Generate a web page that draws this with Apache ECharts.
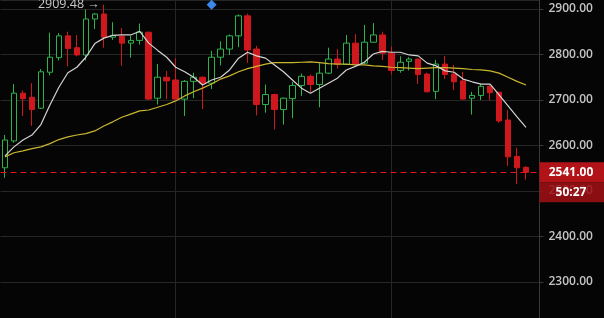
<!DOCTYPE html>
<html>
<head>
<meta charset="utf-8">
<script src="https://cdn.jsdelivr.net/npm/echarts@6/dist/echarts.min.js"></script>
<style>
html,body{margin:0;padding:0;background:#050505;}
#c{width:604px;height:318px;}
</style>
</head>
<body>
<div id="c"></div>
<script>
// ---- data ----
const openV  = [2551,2610,2715,2706,2682,2761,2793,2841,2815,2799,2878,2889,2838,2840,2825,2831,2849,2704,2750,2744,2702,2741,2750,2737,2794,2812,2841,2885,2812,2690,2712,2679,2703,2732,2752,2734,2759,2790,2778,2825,2781,2827,2843,2803,2765,2785,2790,2757,2719,2779,2757,2742,2704,2710,2730,2717,2656,2576,2552];
const closeV = [2612,2715,2703,2679,2762,2794,2841,2813,2799,2878,2889,2838,2842,2825,2831,2849,2702,2750,2742,2702,2741,2750,2737,2794,2812,2841,2885,2810,2690,2712,2679,2704,2732,2752,2734,2759,2790,2779,2825,2779,2827,2843,2803,2765,2783,2790,2756,2718,2779,2756,2740,2702,2710,2730,2716,2654,2575,2551,2541];
const lowV   = [2529,2606,2665,2643,2680,2754,2787,2774,2796,2787,2856,2815,2832,2775,2793,2822,2700,2690,2702,2701,2665,2704,2680,2724,2776,2799,2816,2782,2666,2672,2635,2646,2660,2709,2717,2684,2757,2769,2777,2776,2779,2826,2788,2756,2760,2765,2735,2717,2702,2746,2722,2701,2668,2700,2699,2650,2555,2515,2525];
const highV  = [2623,2735,2721,2737,2768,2848,2847,2850,2843,2899,2891,2909.48,2871,2858,2841,2868,2850,2779,2764,2792,2744,2760,2752,2808,2829,2844,2888,2890,2819,2734,2714,2705,2740,2758,2756,2781,2815,2812,2843,2845,2865,2869,2850,2818,2796,2794,2791,2760,2788,2797,2777,2762,2718,2735,2733,2718,2678,2595,2554.5];
const maFast = [2577,2597,2612,2623,2646,2689,2728,2760,2772,2794,2824,2836,2842,2843,2843,2851,2825,2809,2794,2772,2762,2750,2733,2744,2750,2766,2792,2805,2797,2792,2777,2762,2744,2726,2715,2726,2737,2748,2766,2774,2783,2801,2807,2805,2805,2799,2797,2781,2775,2764,2761,2746,2740,2735,2735,2711,2687,2663,2640];
const maSlow = [2575,2584,2588,2593,2597,2604,2613,2619,2623,2626,2632,2643,2652,2662,2669,2676,2678,2684,2690,2698,2709,2718,2726,2735,2746,2753,2762,2769,2774,2779,2782,2782,2782,2783,2784,2782,2780,2779,2779,2777,2777,2775,2774,2772,2771,2770,2769,2770,2771,2771,2770,2769,2767,2766,2764,2759,2750,2741,2733];
const categories = openV.map((_, i) => 'k' + i).concat(['next']);
const sessionLines = [19, 43];
const signalIndex = 23, signalPrice = 2909.5;
const currentPrice = 2541.00;
const countdown = '50:27';
const yRange = {min: 2220.8, max: 2919.8};

const candles = openV.map((o, i) => [o, closeV[i], lowV[i], highV[i]]);

const UP = '#2fb24c', DOWN = '#cf181d';
const chart = echarts.init(document.getElementById('c'), null, {renderer: 'canvas'});
const FONT = 'Open Sans';

chart.setOption({
  backgroundColor: '#050505',
  animation: false,
  grid: {left: 0.5, right: 64.5, top: 0, bottom: 0},
  xAxis: {
    type: 'category', data: categories, boundaryGap: true,
    axisLine: {show: false}, axisTick: {show: false}, axisLabel: {show: false},
    splitLine: {show: false}
  },
  yAxis: {
    type: 'value', position: 'right',
    min: yRange.min, max: yRange.max, splitNumber: 7,
    axisLine: {show: true, lineStyle: {color: '#3a3a3a'}},
    axisTick: {show: true, length: 4, lineStyle: {color: '#3a3a3a'}},
    axisLabel: {color: '#c4c4c4', fontSize: 12, fontFamily: FONT, fontWeight: 600, margin: 9,
      showMinLabel: false, showMaxLabel: false,
      formatter: v => (Math.abs(v % 100) < 1e-6 ? v.toFixed(2) : '')},
    splitLine: {show: true, lineStyle: {color: '#262626', width: 1}}
  },
  series: [
    {
      type: 'candlestick', data: candles, barWidth: 6, z: 2,
      itemStyle: {color: '#050505', color0: DOWN, borderColor: UP, borderColor0: DOWN, borderWidth: 1},
      markLine: {
        z: 1, silent: true, symbol: 'none', animation: false,
        label: {show: false},
        lineStyle: {color: '#262626', type: 'solid', width: 1},
        data: sessionLines.map(i => ({xAxis: i}))
      },
      markPoint: {
        animation: false,
        data: [
          {type: 'max', valueDim: 'highest', symbol: 'circle', symbolSize: 0,
           label: {show: true, position: 'left', distance: 4, color: '#c8c8c8', fontSize: 12.5,
             fontFamily: FONT, formatter: p => Number(p.value).toFixed(2) + ' →'}},
          {coord: [signalIndex, signalPrice], symbol: 'diamond', symbolSize: [10, 10],
           itemStyle: {color: '#3b87ec'}, label: {show: false}}
        ]
      }
    },
    {
      type: 'line', data: maSlow, showSymbol: false, symbol: 'none', z: 3,
      lineStyle: {color: '#c9b631', width: 1.2}
    },
    {
      type: 'line', data: maFast, showSymbol: false, symbol: 'none', z: 4,
      lineStyle: {color: '#d4d4d4', width: 1.2},
      markLine: {
        z: 6, silent: true, symbol: 'none', animation: false,
        label: {show: false},
        lineStyle: {color: '#e3161c', type: [6, 4], width: 1, opacity: 1},
        emphasis: {disabled: true},
        data: [{yAxis: currentPrice, lineStyle: {color: '#e3161c', type: [6, 4], width: 1, opacity: 1}}]
      }
    }
  ]
});

const py = chart.convertToPixel({yAxisIndex: 0}, currentPrice);
chart.setOption({
  graphic: [
    {type: 'rect', z: 100, shape: {x: 539.5, y: py - 10, width: 65, height: 20}, style: {fill: '#b21318'}},
    {type: 'text', z: 101, x: 571, y: py, style: {text: currentPrice.toFixed(2), fill: '#ffffff', font: 'bold 12px "Open Sans"', align: 'center', verticalAlign: 'middle'}},
    {type: 'rect', z: 100, shape: {x: 539.5, y: py + 10, width: 65, height: 20}, style: {fill: 'rgba(158,16,20,0.88)'}},
    {type: 'text', z: 101, x: 571, y: py + 20, style: {text: countdown, fill: '#ffffff', font: 'bold 12px "Open Sans"', align: 'center', verticalAlign: 'middle'}}
  ]
});
</script>
</body>
</html>
